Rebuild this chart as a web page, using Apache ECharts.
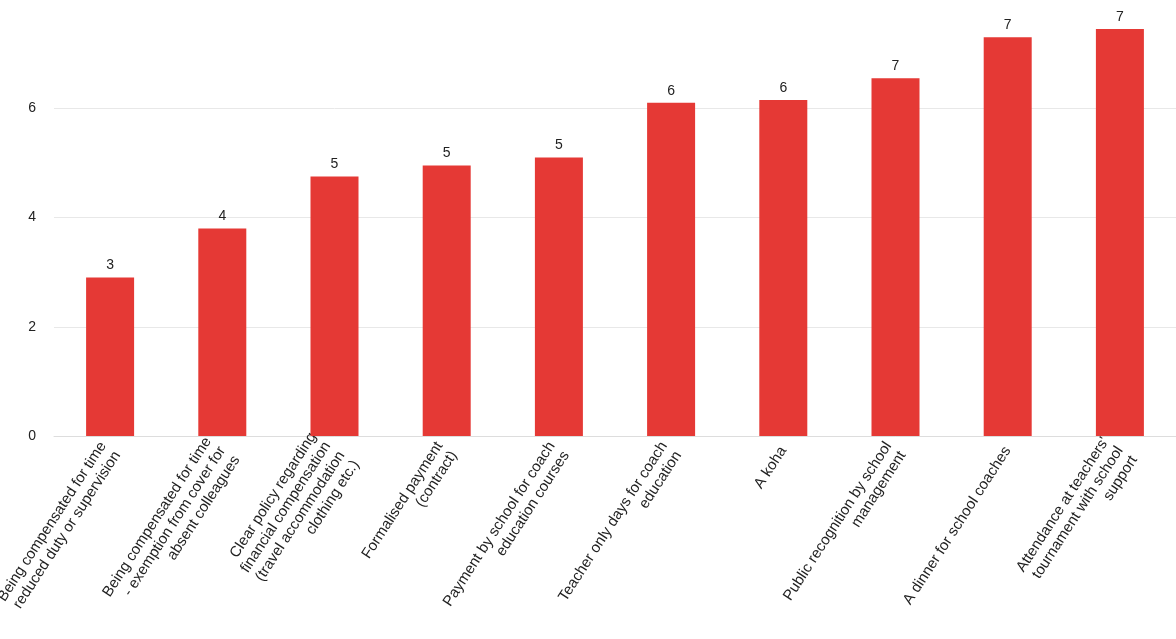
<!DOCTYPE html>
<html><head><meta charset="utf-8">
<script src="https://cdn.jsdelivr.net/npm/echarts@6/dist/echarts.min.js"></script>
<style>html,body{margin:0;padding:0;background:#fff}#c{width:1176px;height:639px}</style>
</head><body><div id="c"></div>
<script>
const categories = [
"Being compensated for time\nreduced duty or supervision",
"Being compensated for time\n- exemption from cover for\nabsent colleagues",
"Clear policy regarding\nfinancial compensation\n(travel accommodation\nclothing etc.)",
"Formalised payment\n(contract)",
"Payment by school for coach\neducation courses",
"Teacher only days for coach\neducation",
"A koha",
"Public recognition by school\nmanagement",
"A dinner for school coaches",
"Attendance at teachers'\ntournament with school\nsupport"];
const values = [2.9, 3.8, 4.75, 4.95, 5.1, 6.1, 6.15, 6.55, 7.3, 7.45];
const chart = echarts.init(document.getElementById('c'));
chart.setOption({
  animation:false,
  grid:{left:54,right:0,top:-1,bottom:203,outerBoundsMode:'none'},
  xAxis:{type:'category',data:categories,
    axisLine:{lineStyle:{color:'#ddd'}},axisTick:{show:false},
    axisLabel:{rotate:57,interval:0,color:'#222',fontSize:15,fontFamily:'Helvetica, Arial, sans-serif',align:'right',verticalAlign:'middle',margin:12,lineHeight:17}},
  yAxis:{type:'value',min:0,max:8,interval:2,
    axisLabel:{color:'#222',fontSize:14,showMaxLabel:false,margin:18},
    splitLine:{lineStyle:{color:'#e8e8e8'}},axisLine:{show:false},axisTick:{show:false}},
  series:[{type:'bar',data:values,barWidth:48,itemStyle:{color:'#e53935'},
    label:{show:true,position:'top',color:'#222',fontSize:14,formatter:p=>Math.round(p.value)}}]
});
</script></body></html>
